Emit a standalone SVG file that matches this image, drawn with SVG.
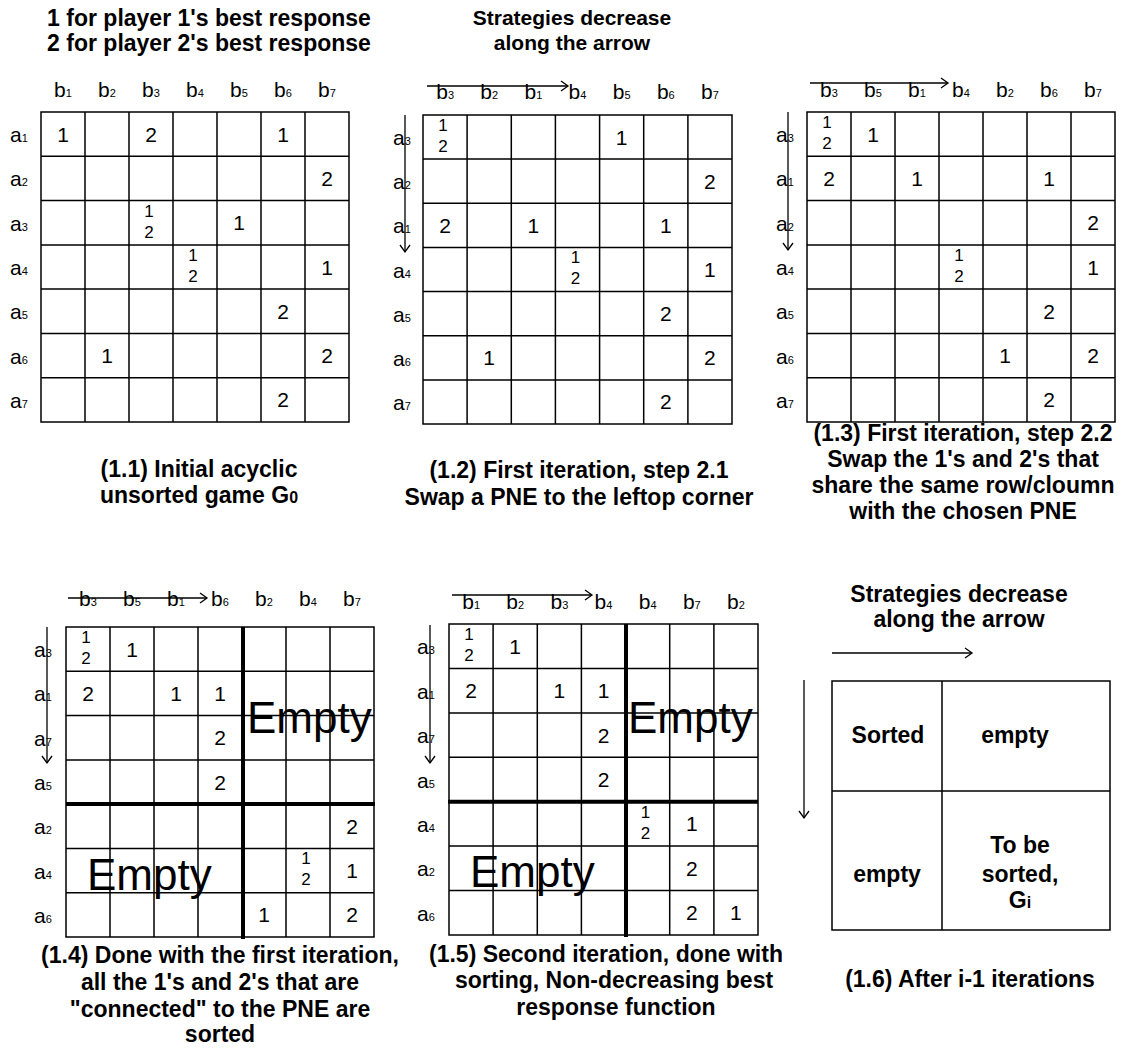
<svg xmlns="http://www.w3.org/2000/svg" width="1122" height="1053" viewBox="0 0 1122 1053">
<style>
.g{fill:none;stroke:#000;stroke-width:1.5}
.tk{fill:none;stroke:#000;stroke-width:4}
.ar{fill:none;stroke:#000;stroke-width:1.3}
text{font-family:"Liberation Sans",Arial,sans-serif;fill:#000}
.n{font-size:21px;text-anchor:middle}
.s{font-size:17px;text-anchor:middle}
.h{font-size:21px;text-anchor:middle}
.l{font-size:21px}
.sb{font-size:11px}
.c{font-size:23px;font-weight:bold;text-anchor:middle}
.t2{font-size:21px;font-weight:bold;text-anchor:middle}
.e{font-size:44px}
</style>
<defs>
<marker id="ah" markerUnits="userSpaceOnUse" markerWidth="12" markerHeight="14" refX="9" refY="7" orient="auto">
<path d="M2,2 L9,7 L2,12" fill="none" stroke="#000" stroke-width="1.3"/>
</marker>
</defs>

<g id="panel-1-1">
<text class="c" x="209" y="26">1 for player 1's best response</text>
<text class="c" x="209" y="51">2 for player 2's best response</text>
<text class="h" x="63" y="97">b<tspan class="sb">1</tspan></text>
<text class="h" x="107" y="97">b<tspan class="sb">2</tspan></text>
<text class="h" x="151" y="97">b<tspan class="sb">3</tspan></text>
<text class="h" x="195" y="97">b<tspan class="sb">4</tspan></text>
<text class="h" x="239" y="97">b<tspan class="sb">5</tspan></text>
<text class="h" x="283" y="97">b<tspan class="sb">6</tspan></text>
<text class="h" x="327" y="97">b<tspan class="sb">7</tspan></text>
<text class="l" x="10" y="142">a<tspan class="sb">1</tspan></text>
<text class="l" x="10" y="186">a<tspan class="sb">2</tspan></text>
<text class="l" x="10" y="231">a<tspan class="sb">3</tspan></text>
<text class="l" x="10" y="275">a<tspan class="sb">4</tspan></text>
<text class="l" x="10" y="319">a<tspan class="sb">5</tspan></text>
<text class="l" x="10" y="364">a<tspan class="sb">6</tspan></text>
<text class="l" x="10" y="408">a<tspan class="sb">7</tspan></text>
<rect class="g" x="41" y="112" width="308" height="310"/>
<path class="g" d="M85 112V422M129 112V422M173 112V422M217 112V422M261 112V422M305 112V422M41 156.3H349M41 200.6H349M41 244.9H349M41 289.1H349M41 333.4H349M41 377.7H349"/>
<text class="n" x="63" y="141.5">1</text><text class="n" x="151" y="141.5">2</text><text class="n" x="283" y="141.5">1</text>
<text class="n" x="327" y="185.9">2</text>
<text class="s" x="149" y="216.6">1</text><text class="s" x="149" y="237.6">2</text><text class="n" x="239" y="230.2">1</text>
<text class="s" x="193" y="260.9">1</text><text class="s" x="193" y="281.9">2</text><text class="n" x="327" y="274.5">1</text>
<text class="n" x="283" y="318.8">2</text>
<text class="n" x="107" y="363.1">1</text><text class="n" x="327" y="363.1">2</text>
<text class="n" x="283" y="407.4">2</text>
<text class="c" x="199" y="477">(1.1) Initial acyclic</text>
<text class="c" x="199" y="503">unsorted game G<tspan font-size="16">0</tspan></text>
</g>

<g id="panel-1-2">
<text class="t2" x="572" y="25">Strategies decrease</text>
<text class="t2" x="572" y="50">along the arrow</text>
<text class="h" x="445.1" y="99">b<tspan class="sb">3</tspan></text>
<text class="h" x="489.2" y="99">b<tspan class="sb">2</tspan></text>
<text class="h" x="533.4" y="99">b<tspan class="sb">1</tspan></text>
<text class="h" x="577.5" y="99">b<tspan class="sb">4</tspan></text>
<text class="h" x="621.6" y="99">b<tspan class="sb">5</tspan></text>
<text class="h" x="665.8" y="99">b<tspan class="sb">6</tspan></text>
<text class="h" x="709.9" y="99">b<tspan class="sb">7</tspan></text>
<text class="l" x="393" y="145">a<tspan class="sb">3</tspan></text>
<text class="l" x="393" y="189">a<tspan class="sb">2</tspan></text>
<text class="l" x="393" y="233">a<tspan class="sb">1</tspan></text>
<text class="l" x="393" y="278">a<tspan class="sb">4</tspan></text>
<text class="l" x="393" y="322">a<tspan class="sb">5</tspan></text>
<text class="l" x="393" y="366">a<tspan class="sb">6</tspan></text>
<text class="l" x="393" y="410">a<tspan class="sb">7</tspan></text>
<rect class="g" x="423" y="115" width="309" height="309"/>
<path class="g" d="M467.1 115V424M511.3 115V424M555.4 115V424M599.6 115V424M643.7 115V424M687.9 115V424M423 159.1H732M423 203.3H732M423 247.4H732M423 291.6H732M423 335.7H732M423 379.9H732"/>
<text class="s" x="443.1" y="131">1</text><text class="s" x="443.1" y="152">2</text><text class="n" x="621.6" y="144.5">1</text>
<text class="n" x="709.9" y="188.7">2</text>
<text class="n" x="445.1" y="232.9">2</text><text class="n" x="533.4" y="232.9">1</text><text class="n" x="665.8" y="232.9">1</text>
<text class="s" x="575.5" y="263.4">1</text><text class="s" x="575.5" y="284.4">2</text><text class="n" x="709.9" y="277">1</text>
<text class="n" x="665.8" y="321.1">2</text>
<text class="n" x="489.2" y="365.3">1</text><text class="n" x="709.9" y="365.3">2</text>
<text class="n" x="665.8" y="409.4">2</text>
<text class="c" x="579" y="478">(1.2) First iteration, step 2.1</text>
<text class="c" x="579" y="505">Swap a PNE to the leftop corner</text>
</g>

<g id="panel-1-3">
<text class="h" x="829" y="97">b<tspan class="sb">3</tspan></text>
<text class="h" x="873" y="97">b<tspan class="sb">5</tspan></text>
<text class="h" x="917" y="97">b<tspan class="sb">1</tspan></text>
<text class="h" x="961" y="97">b<tspan class="sb">4</tspan></text>
<text class="h" x="1005" y="97">b<tspan class="sb">2</tspan></text>
<text class="h" x="1049" y="97">b<tspan class="sb">6</tspan></text>
<text class="h" x="1093" y="97">b<tspan class="sb">7</tspan></text>
<text class="l" x="776" y="142">a<tspan class="sb">3</tspan></text>
<text class="l" x="776" y="186">a<tspan class="sb">1</tspan></text>
<text class="l" x="776" y="231">a<tspan class="sb">2</tspan></text>
<text class="l" x="776" y="275">a<tspan class="sb">4</tspan></text>
<text class="l" x="776" y="319">a<tspan class="sb">5</tspan></text>
<text class="l" x="776" y="364">a<tspan class="sb">6</tspan></text>
<text class="l" x="776" y="408">a<tspan class="sb">7</tspan></text>
<rect class="g" x="807" y="112" width="308" height="310"/>
<path class="g" d="M851 112V422M895 112V422M939 112V422M983 112V422M1027 112V422M1071 112V422M807 156.3H1115M807 200.6H1115M807 244.9H1115M807 289.1H1115M807 333.4H1115M807 377.7H1115"/>
<text class="s" x="827" y="128">1</text><text class="s" x="827" y="149">2</text><text class="n" x="873" y="141.5">1</text>
<text class="n" x="829" y="185.9">2</text><text class="n" x="917" y="185.9">1</text><text class="n" x="1049" y="185.9">1</text>
<text class="n" x="1093" y="230.2">2</text>
<text class="s" x="959" y="260.9">1</text><text class="s" x="959" y="281.9">2</text><text class="n" x="1093" y="274.5">1</text>
<text class="n" x="1049" y="318.8">2</text>
<text class="n" x="1005" y="363.1">1</text><text class="n" x="1093" y="363.1">2</text>
<text class="n" x="1049" y="407.4">2</text>
<text class="c" x="963" y="441">(1.3) First iteration, step 2.2</text>
<text class="c" x="963" y="467">Swap the 1's and 2's that</text>
<text class="c" x="963" y="493">share the same row/cloumn</text>
<text class="c" x="963" y="519">with the chosen PNE</text>
</g>

<g id="panel-1-4">
<text class="h" x="88" y="606">b<tspan class="sb">3</tspan></text>
<text class="h" x="132" y="606">b<tspan class="sb">5</tspan></text>
<text class="h" x="176" y="606">b<tspan class="sb">1</tspan></text>
<text class="h" x="220" y="606">b<tspan class="sb">6</tspan></text>
<text class="h" x="264" y="606">b<tspan class="sb">2</tspan></text>
<text class="h" x="308" y="606">b<tspan class="sb">4</tspan></text>
<text class="h" x="352" y="606">b<tspan class="sb">7</tspan></text>
<text class="l" x="34" y="657">a<tspan class="sb">3</tspan></text>
<text class="l" x="34" y="701">a<tspan class="sb">1</tspan></text>
<text class="l" x="34" y="746">a<tspan class="sb">7</tspan></text>
<text class="l" x="34" y="790">a<tspan class="sb">5</tspan></text>
<text class="l" x="34" y="834">a<tspan class="sb">2</tspan></text>
<text class="l" x="34" y="879">a<tspan class="sb">4</tspan></text>
<text class="l" x="34" y="923">a<tspan class="sb">6</tspan></text>
<rect class="g" x="66" y="627" width="308" height="310"/>
<path class="g" d="M110 627V937M154 627V937M198 627V937M286 627V937M330 627V937M66 671.3H374M66 715.6H374M66 759.9H374M66 848.4H374M66 892.7H374"/>
<path class="tk" d="M243 627V939M66 804.1H375"/>
<text class="s" x="86" y="643">1</text><text class="s" x="86" y="664">2</text><text class="n" x="132" y="656.5">1</text>
<text class="n" x="88" y="700.9">2</text><text class="n" x="176" y="700.9">1</text><text class="n" x="220" y="700.9">1</text>
<text class="n" x="220" y="745.2">2</text>
<text class="n" x="220" y="789.5">2</text>
<text class="n" x="352" y="833.8">2</text>
<text class="s" x="306" y="864.4">1</text><text class="s" x="306" y="885.4">2</text><text class="n" x="352" y="878.1">1</text>
<text class="n" x="264" y="922.4">1</text><text class="n" x="352" y="922.4">2</text>
<text class="e" x="247" y="733">Empty</text>
<text class="e" x="87" y="890">Empty</text>
<text class="c" x="220" y="963">(1.4) Done with the first iteration,</text>
<text class="c" x="220" y="990">all the 1's and 2's that are</text>
<text class="c" x="220" y="1017">"connected" to the PNE are</text>
<text class="c" x="220" y="1042">sorted</text>
</g>

<g id="panel-1-5">
<text class="h" x="471.1" y="609">b<tspan class="sb">1</tspan></text>
<text class="h" x="515.2" y="609">b<tspan class="sb">2</tspan></text>
<text class="h" x="559.4" y="609">b<tspan class="sb">3</tspan></text>
<text class="h" x="603.5" y="609">b<tspan class="sb">4</tspan></text>
<text class="h" x="647.6" y="609">b<tspan class="sb">4</tspan></text>
<text class="h" x="691.8" y="609">b<tspan class="sb">7</tspan></text>
<text class="h" x="735.9" y="609">b<tspan class="sb">2</tspan></text>
<text class="l" x="417" y="654">a<tspan class="sb">3</tspan></text>
<text class="l" x="417" y="699">a<tspan class="sb">1</tspan></text>
<text class="l" x="417" y="743">a<tspan class="sb">7</tspan></text>
<text class="l" x="417" y="788">a<tspan class="sb">5</tspan></text>
<text class="l" x="417" y="832">a<tspan class="sb">4</tspan></text>
<text class="l" x="417" y="876">a<tspan class="sb">2</tspan></text>
<text class="l" x="417" y="921">a<tspan class="sb">6</tspan></text>
<rect class="g" x="449" y="624" width="309" height="311"/>
<path class="g" d="M493.1 624V935M537.3 624V935M581.4 624V935M669.7 624V935M713.9 624V935M449 668.4H758M449 712.9H758M449 757.3H758M449 846.1H758M449 890.6H758"/>
<path class="tk" d="M626 624V937M448 801.7H758"/>
<text class="s" x="469.1" y="640">1</text><text class="s" x="469.1" y="661">2</text><text class="n" x="515.2" y="653.7">1</text>
<text class="n" x="471.1" y="698.2">2</text><text class="n" x="559.4" y="698.2">1</text><text class="n" x="603.5" y="698.2">1</text>
<text class="n" x="603.5" y="742.6">2</text>
<text class="n" x="603.5" y="787">2</text>
<text class="s" x="645.6" y="817.7">1</text><text class="s" x="645.6" y="838.7">2</text><text class="n" x="691.8" y="831.4">1</text>
<text class="n" x="691.8" y="875.9">2</text>
<text class="n" x="691.8" y="920.3">2</text><text class="n" x="735.9" y="920.3">1</text>
<text class="e" x="628" y="733">Empty</text>
<text class="e" x="470" y="887">Empty</text>
<text class="c" x="606" y="962">(1.5) Second iteration, done with</text>
<text class="c" x="614" y="988">sorting, Non-decreasing best</text>
<text class="c" x="616" y="1015">response function</text>
</g>

<g id="panel-1-6">
<text class="c" x="959" y="602">Strategies decrease</text>
<text class="c" x="959" y="627">along the arrow</text>
<rect class="g" x="832" y="681" width="278" height="249"/>
<path class="g" d="M942 681V930M832 791H1110"/>
<text class="c" x="888" y="743">Sorted</text>
<text class="c" x="1015" y="743">empty</text>
<text class="c" x="887" y="882">empty</text>
<text class="c" x="1020" y="853">To be</text>
<text class="c" x="1020" y="882">sorted,</text>
<text class="c" x="1020" y="908">G<tspan font-size="16">i</tspan></text>
<text class="c" x="970" y="987">(1.6) After i-1 iterations</text>
</g>

<g id="connectors">
<path class="ar" d="M427 86H568" marker-end="url(#ah)"/>
<path class="ar" d="M405 115V252" marker-end="url(#ah)"/>
<path class="ar" d="M810 83H948" marker-end="url(#ah)"/>
<path class="ar" d="M788 112V250" marker-end="url(#ah)"/>
<path class="ar" d="M68 598H207" marker-end="url(#ah)"/>
<path class="ar" d="M47 627V763" marker-end="url(#ah)"/>
<path class="ar" d="M452 595H592" marker-end="url(#ah)"/>
<path class="ar" d="M430 625V763" marker-end="url(#ah)"/>
<path class="ar" d="M832 653H972" marker-end="url(#ah)"/>
<path class="ar" d="M804 680V818" marker-end="url(#ah)"/>
</g>
</svg>
